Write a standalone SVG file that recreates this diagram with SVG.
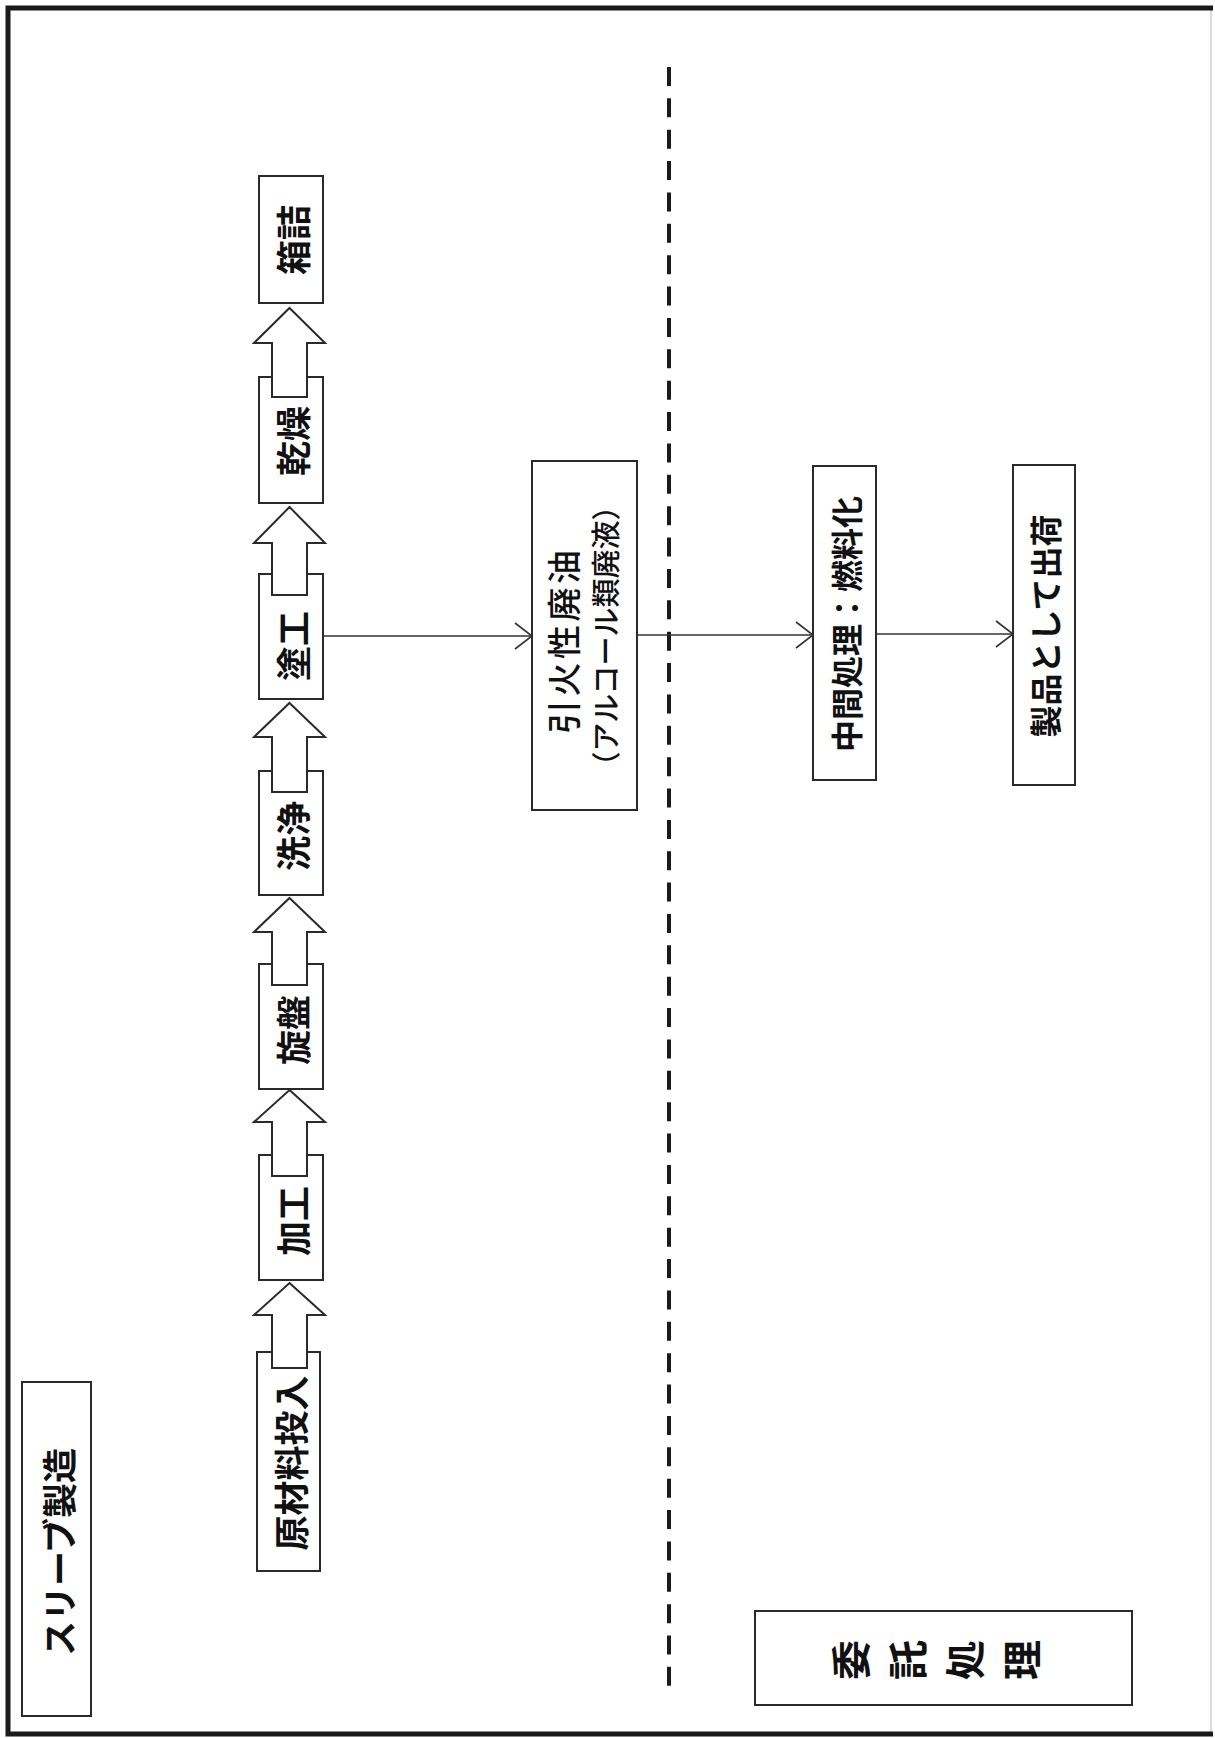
<svg xmlns="http://www.w3.org/2000/svg" width="1215" height="1738" viewBox="0 0 1215 1738">
<style>
.box{fill:#fff;stroke:#2a2a2a;stroke-width:2}
.blk{fill:#fff;stroke:#2a2a2a;stroke-width:2;stroke-linejoin:miter}
.t{font-family:"Noto Sans CJK JP","Noto Sans",sans-serif;fill:#111;text-anchor:middle;dominant-baseline:central}
.p{font-size:35px;font-weight:600}
.m{font-size:32px;font-weight:600}
.conn{stroke:#333;stroke-width:1.6;fill:none}
</style>
<defs>
<marker id="arr" markerUnits="userSpaceOnUse" viewBox="-20 -16 22 32" markerWidth="22" markerHeight="32" refX="0" refY="0" orient="auto">
<path d="M-17,-13 L0,0 L-17,13" fill="none" stroke="#333" stroke-width="1.6"/>
</marker>
</defs>
<rect x="0" y="0" width="1215" height="1738" fill="#fff"/>
<g id="frame">
<line x1="1211" y1="8" x2="1211" y2="1734" stroke="#d0d0d0" stroke-width="1.5"/>
<path d="M1213,8 L8,8 L8,1734 L1213,1734" fill="none" stroke="#1a1a1a" stroke-width="5"/>
</g>
<g id="divider">
<line x1="669" y1="67" x2="669" y2="1686" stroke="#1a1a1a" stroke-width="4" stroke-dasharray="19 12.37"/>
</g>
<g id="title">
<rect class="box" x="22" y="1382" width="69" height="334"/>
<text class="t" style="font-size:35px;font-weight:600" transform="translate(57,1552) rotate(-90)">スリーブ製造</text>
</g>
<g id="n-hakozume">
<rect class="box" x="259" y="176" width="64" height="127"/>
<text class="t p" transform="translate(291,240) rotate(-90)">箱詰</text>
</g>
<g id="n-kanso">
<rect class="box" x="259" y="377" width="64" height="126"/>
<text class="t p" transform="translate(291,441) rotate(-90)">乾燥</text>
</g>
<g id="n-toko">
<rect class="box" x="259" y="574" width="64" height="125"/>
<text class="t p" transform="translate(291,646) rotate(-90)">塗工</text>
</g>
<g id="n-senjo">
<rect class="box" x="259" y="771" width="64" height="124"/>
<text class="t p" transform="translate(291,836) rotate(-90)">洗浄</text>
</g>
<g id="n-senban">
<rect class="box" x="259" y="964" width="64" height="125"/>
<text class="t p" transform="translate(291,1030) rotate(-90)">旋盤</text>
</g>
<g id="n-kako">
<rect class="box" x="259" y="1155" width="64" height="125"/>
<text class="t p" transform="translate(291,1221) rotate(-90)">加工</text>
</g>
<g id="n-genzairyo">
<rect class="box" x="257" y="1352" width="63" height="219"/>
<text class="t p" transform="translate(289,1463) rotate(-90)">原材料投入</text>
</g>
<g id="flow-arrows">
<polygon class="blk" points="289.5,308 325,343 307,343 307,397 272,397 272,343 254,343"/>
<polygon class="blk" points="289.5,507 325,543 307,543 307,595 272,595 272,543 254,543"/>
<polygon class="blk" points="289.5,703 325,737 307,737 307,792 272,792 272,737 254,737"/>
<polygon class="blk" points="289.5,898 325,932 307,932 307,985 272,985 272,932 254,932"/>
<polygon class="blk" points="289.5,1090 325,1122 307,1122 307,1176 272,1176 272,1122 254,1122"/>
<polygon class="blk" points="289.5,1283 325,1315 307,1315 307,1368 272,1368 272,1315 254,1315"/>
</g>
<g id="n-haiyu">
<rect class="box" x="532" y="461" width="105" height="349"/>
<text class="t" style="font-size:34px;font-weight:500" transform="translate(562,642) rotate(-90)" textLength="184" lengthAdjust="spacing">引火性廃油</text>
<text class="t" style="font-size:29px;font-weight:500" transform="translate(604,636) rotate(-90)">（アルコール類廃液）</text>
</g>
<g id="n-chukan">
<rect class="box" x="813" y="466" width="63" height="314"/>
<text class="t m" transform="translate(845,624) rotate(-90)">中間処理：燃料化</text>
</g>
<g id="n-seihin">
<rect class="box" x="1013" y="465" width="62" height="320"/>
<text class="t m" transform="translate(1044,626) rotate(-90)">製品として出荷</text>
</g>
<g id="n-itaku">
<rect class="box" x="755" y="1611" width="377" height="94"/>
<text class="t" font-size="40" font-weight="600" writing-mode="vertical-rl" letter-spacing="17" transform="translate(945,1660) rotate(-90)">委託処理</text>
</g>
<g id="connectors">
<line class="conn" x1="323" y1="636" x2="532" y2="636" marker-end="url(#arr)"/>
<line class="conn" x1="637" y1="635" x2="813" y2="635" marker-end="url(#arr)"/>
<line class="conn" x1="876" y1="634" x2="1013" y2="634" marker-end="url(#arr)"/>
</g>
</svg>
